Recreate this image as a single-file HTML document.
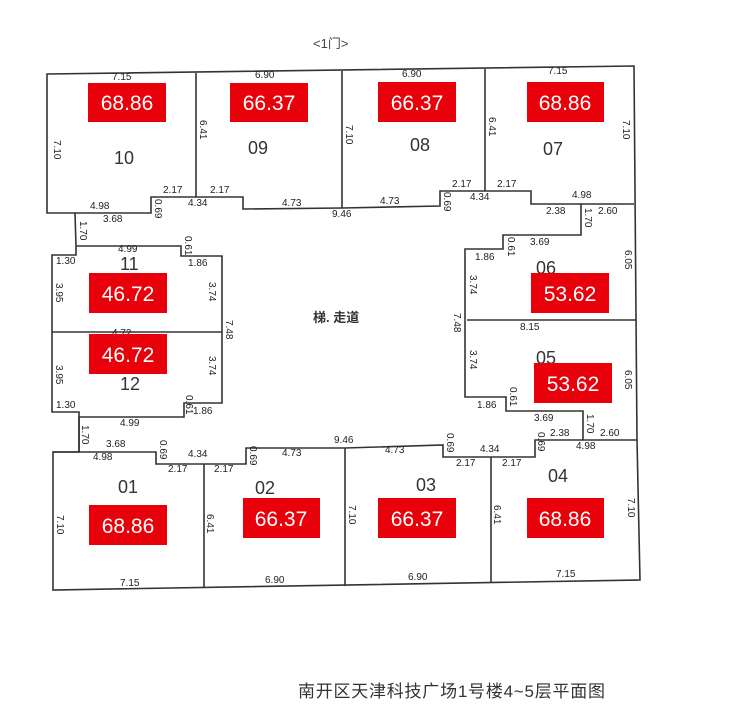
<!DOCTYPE html>
<html><head><meta charset="utf-8">
<style>
html,body{margin:0;padding:0;background:#fff;}
svg{display:block;}
.d{font-family:"Liberation Sans Narrow","Liberation Sans",sans-serif;font-size:10px;fill:#222;}
.n{font-family:"Liberation Sans",sans-serif;font-size:18px;fill:#333;}
.r{fill:#e8000b;}
.a{font-family:"Liberation Sans",sans-serif;font-size:21px;fill:#fff;text-anchor:middle;}
</style></head>
<body>
<svg width="732" height="726" viewBox="0 0 732 726" xmlns="http://www.w3.org/2000/svg">
<rect width="732" height="726" fill="#fff"/>
<g fill="none" stroke="#333" stroke-width="1.6">
<!-- outer boundary -->
<path d="M47,74 L634,66 L637,440 L640,580 L53,590 L53,452 L79,452 L79,412 L52,412 L52,255 L76,255 L76,246 L75,213 L47,213 Z"/>
<!-- inner corridor boundary -->
<path d="M75,213 L151,213 L151,197 L243,197 L243,209 L342,208 L440,206 L440,191 L531,191 L531,204 L581,204 L581,235 L503,235 L503,249 L465,249 L465,397 L506,397 L506,411 L583,411 L583,440 L637,440"/>
<path d="M76,246 L181,246 L181,256 L222,256 L222,403 L184,403 L184,417 L79,417 L79,452"/>
<path d="M53,452 L156,452 L156,464 L246,464 L246,448 L345,448 L443,445 L443,457 L535,457 L535,440 L583,440"/>
<path d="M581,204 L634,204"/>
<!-- dividers -->
<path d="M196,73 L196,197"/>
<path d="M342,71 L342,208"/>
<path d="M485,69 L485,191"/>
<path d="M52,332 L222,332"/>
<path d="M467,320 L636,320"/>
<path d="M204,464 L204,588"/>
<path d="M345,448 L345,586"/>
<path d="M491,457 L491,583"/>
</g>
<!-- dimension labels -->
<g class="d">
<text x="112" y="80">7.15</text><text x="255" y="78">6.90</text><text x="402" y="77">6.90</text><text x="548" y="74">7.15</text>
<text x="90" y="209">4.98</text><text x="103" y="222">3.68</text><text x="163" y="193">2.17</text><text x="210" y="193">2.17</text>
<text x="188" y="206">4.34</text><text x="282" y="206">4.73</text><text x="332" y="217">9.46</text><text x="380" y="204">4.73</text>
<text x="452" y="187">2.17</text><text x="497" y="187">2.17</text><text x="470" y="200">4.34</text><text x="572" y="198">4.98</text>
<text x="546" y="214">2.38</text><text x="598" y="214">2.60</text><text x="530" y="245">3.69</text><text x="475" y="260">1.86</text>
<text x="56" y="264">1.30</text><text x="118" y="252">4.99</text><text x="188" y="266">1.86</text>
<text x="112" y="336">4.72</text><text x="520" y="330">8.15</text>
<text x="56" y="408">1.30</text><text x="120" y="426">4.99</text><text x="193" y="414">1.86</text>
<text x="477" y="408">1.86</text><text x="534" y="421">3.69</text><text x="550" y="436">2.38</text><text x="600" y="436">2.60</text>
<text x="106" y="447">3.68</text><text x="93" y="460">4.98</text><text x="168" y="472">2.17</text><text x="188" y="457">4.34</text>
<text x="214" y="472">2.17</text><text x="282" y="456">4.73</text><text x="334" y="443">9.46</text><text x="385" y="453">4.73</text>
<text x="456" y="466">2.17</text><text x="480" y="452">4.34</text><text x="502" y="466">2.17</text><text x="576" y="449">4.98</text>
<text x="120" y="586">7.15</text><text x="265" y="583">6.90</text><text x="408" y="580">6.90</text><text x="556" y="577">7.15</text>
</g>
<g class="d">
<text transform="translate(54,140) rotate(90)">7.10</text>
<text transform="translate(200,120) rotate(90)">6.41</text>
<text transform="translate(346,125) rotate(90)">7.10</text>
<text transform="translate(489,117) rotate(90)">6.41</text>
<text transform="translate(623,120) rotate(90)">7.10</text>
<text transform="translate(155,199) rotate(90)">0.69</text>
<text transform="translate(444,192) rotate(90)">0.69</text>
<text transform="translate(80,221) rotate(90)">1.70</text>
<text transform="translate(185,236) rotate(90)">0.61</text>
<text transform="translate(585,208) rotate(90)">1.70</text>
<text transform="translate(508,237) rotate(90)">0.61</text>
<text transform="translate(56,283) rotate(90)">3.95</text>
<text transform="translate(56,365) rotate(90)">3.95</text>
<text transform="translate(209,282) rotate(90)">3.74</text>
<text transform="translate(209,356) rotate(90)">3.74</text>
<text transform="translate(226,320) rotate(90)">7.48</text>
<text transform="translate(186,395) rotate(90)">0.61</text>
<text transform="translate(470,275) rotate(90)">3.74</text>
<text transform="translate(470,350) rotate(90)">3.74</text>
<text transform="translate(454,313) rotate(90)">7.48</text>
<text transform="translate(625,250) rotate(90)">6.05</text>
<text transform="translate(625,370) rotate(90)">6.05</text>
<text transform="translate(510,387) rotate(90)">0.61</text>
<text transform="translate(587,414) rotate(90)">1.70</text>
<text transform="translate(82,425) rotate(90)">1.70</text>
<text transform="translate(160,440) rotate(90)">0.69</text>
<text transform="translate(250,446) rotate(90)">0.69</text>
<text transform="translate(447,433) rotate(90)">0.69</text>
<text transform="translate(538,432) rotate(90)">0.69</text>
<text transform="translate(57,515) rotate(90)">7.10</text>
<text transform="translate(207,514) rotate(90)">6.41</text>
<text transform="translate(349,505) rotate(90)">7.10</text>
<text transform="translate(494,505) rotate(90)">6.41</text>
<text transform="translate(628,498) rotate(90)">7.10</text>
</g>
<!-- room numbers -->
<g class="n">
<text x="114" y="164">10</text><text x="248" y="154">09</text><text x="410" y="151">08</text><text x="543" y="155">07</text>
<text x="120" y="270">11</text><text x="120" y="390">12</text><text x="536" y="274">06</text><text x="536" y="364">05</text>
<text x="118" y="493">01</text><text x="255" y="494">02</text><text x="416" y="491">03</text><text x="548" y="482">04</text>
</g>
<!-- red area labels -->
<g>
<rect class="r" x="88" y="83" width="78" height="39"/><text class="a" x="127" y="110">68.86</text>
<rect class="r" x="230" y="83" width="78" height="39"/><text class="a" x="269" y="110">66.37</text>
<rect class="r" x="378" y="82" width="78" height="40"/><text class="a" x="417" y="110">66.37</text>
<rect class="r" x="527" y="82" width="77" height="40"/><text class="a" x="565" y="110">68.86</text>
<rect class="r" x="89" y="273" width="78" height="40"/><text class="a" x="128" y="301">46.72</text>
<rect class="r" x="89" y="334" width="78" height="40"/><text class="a" x="128" y="362">46.72</text>
<rect class="r" x="531" y="273" width="78" height="40"/><text class="a" x="570" y="301">53.62</text>
<rect class="r" x="534" y="363" width="78" height="40"/><text class="a" x="573" y="391">53.62</text>
<rect class="r" x="89" y="505" width="78" height="40"/><text class="a" x="128" y="533">68.86</text>
<rect class="r" x="243" y="498" width="77" height="40"/><text class="a" x="281" y="526">66.37</text>
<rect class="r" x="378" y="498" width="78" height="40"/><text class="a" x="417" y="526">66.37</text>
<rect class="r" x="527" y="498" width="77" height="40"/><text class="a" x="565" y="526">68.86</text>
</g>
<text x="313" y="48" style="font-family:'Liberation Sans','Noto Sans CJK SC',sans-serif;font-size:13px;fill:#444">&lt;1门&gt;</text>
<text x="313" y="322" style="font-family:'Liberation Sans','Noto Sans CJK SC',sans-serif;font-size:13px;font-weight:bold;fill:#333">梯. 走道</text>
<text x="298" y="697" style="font-family:'Liberation Sans','Noto Sans CJK SC',sans-serif;font-size:17px;fill:#333" textLength="307">南开区天津科技广场1号楼4~5层平面图</text>
</svg>
</body></html>
